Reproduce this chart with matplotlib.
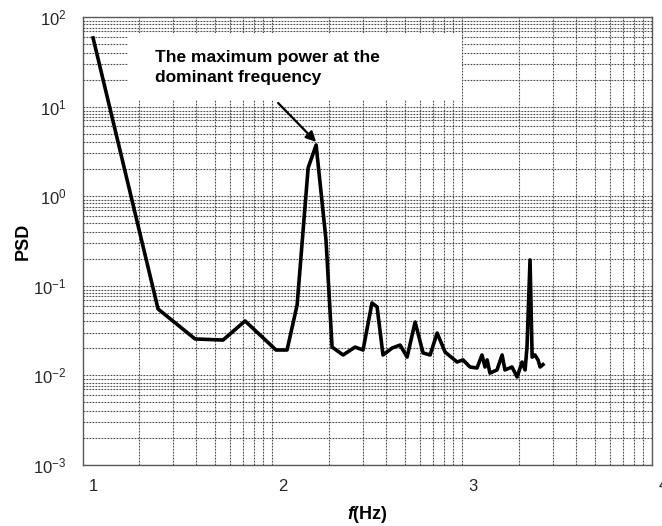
import matplotlib
matplotlib.use("Agg")
import matplotlib.pyplot as plt
import numpy as np
from matplotlib.ticker import FixedLocator, LogFormatterMathtext, NullFormatter
from matplotlib.patches import Rectangle

plt.rcParams['font.family'] = ['Liberation Sans', 'DejaVu Sans']
plt.rcParams['axes.unicode_minus'] = False
plt.rcParams['mathtext.fontset'] = 'custom'
plt.rcParams['mathtext.rm'] = 'Liberation Sans'
plt.rcParams['mathtext.it'] = 'Liberation Sans:italic'
plt.rcParams['mathtext.bf'] = 'Liberation Sans:bold'
try:
    plt.rcParams['mathtext.bfit'] = 'Liberation Sans:italic:bold'
except KeyError:
    pass

# ---- data ----
freq = [1.000, 1.342, 1.537, 1.684, 1.800, 1.963, 2.021, 2.074, 2.132, 2.174,
        2.226, 2.258, 2.316, 2.379, 2.421, 2.468, 2.495, 2.526, 2.574, 2.616,
        2.653, 2.695, 2.737, 2.774, 2.811, 2.853, 2.916, 2.947, 2.984, 3.021,
        3.047, 3.063, 3.074, 3.089, 3.126, 3.153, 3.168, 3.205, 3.232, 3.258,
        3.274, 3.284, 3.300, 3.311, 3.326, 3.342, 3.353, 3.368]
psd = [58.3, 0.0551, 0.0255, 0.0248, 0.0405, 0.0192, 0.0192, 0.0611, 2.07, 3.73,
       0.324, 0.0207, 0.0169, 0.0207, 0.0192, 0.0643, 0.0580, 0.0169, 0.0202, 0.0218,
       0.0160, 0.0394, 0.0178, 0.0169, 0.0297, 0.0182, 0.0141, 0.0149, 0.0124, 0.0121,
       0.0169, 0.0124, 0.0149, 0.0106, 0.0115, 0.0169, 0.0115, 0.0124, 0.0096, 0.0141,
       0.0115, 0.0207, 0.194, 0.0160, 0.0169, 0.0149, 0.0124, 0.0132]

x_ticks = [1, 2, 3, 4]
x_tick_labels = ['1', '2', '3', '4']
y_ticks = [1e-3, 1e-2, 1e-1, 1e0, 1e1, 1e2]
annotation_text = "The maximum power at the\ndominant frequency"
peak_point = (2.174, 4.03)
arrow_start = (1.974, 10.97)

# ---- figure ----
fig = plt.figure(figsize=(6.62, 5.26), dpi=100)
ax = fig.add_axes([0.1254, 0.116, 0.8595, 0.8517])
ax.set_yscale('log')
ax.set_xlim(0.947, 3.942)
ax.set_ylim(1e-3, 1e2)

# grid (style positions)
grid_kw = dict(color='0.3', linestyle=(0, (1.6, 1.1)), linewidth=0.8)
ks_y = [2, 3, 4, 5, 6, 7, 7.6, 8.3, 9]
minor_y = [k * 10.0 ** e for e in range(-3, 2) for k in ks_y]
ax.yaxis.set_minor_locator(FixedLocator(minor_y))
ax.yaxis.set_minor_formatter(NullFormatter())
ax.set_yticks(y_ticks)
ax.yaxis.set_major_formatter(LogFormatterMathtext())

ks_x = [1, 1.5, 2, 2.5, 3, 3.5, 4, 4.5, 5]
minor_x = [n + 0.243 + np.log10(k) for n in range(0, 4) for k in ks_x]
minor_x = [v for v in minor_x if 0.947 < v < 3.945]
ax.xaxis.set_minor_locator(FixedLocator(minor_x))
ax.set_xticks(x_ticks[:3])
ax.set_xticklabels(x_tick_labels[:3])

ax.set_axisbelow(True)
ax.grid(True, which='major', axis='y', **grid_kw)
ax.grid(True, which='minor', axis='both', **grid_kw)
ax.tick_params(which='both', length=0)
ax.tick_params(axis='y', pad=12, labelsize=12, colors='0.15')
ax.tick_params(axis='x', pad=10, labelsize=12, colors='0.15')

# label "4" at the very edge (beyond the view limit)
ax.text(x_ticks[3], -0.03, x_tick_labels[3], transform=ax.get_xaxis_transform(),
        ha='center', va='top', fontsize=12, color='0.15', clip_on=False)

for s in ax.spines.values():
    s.set_color('0.35')
    s.set_linewidth(1.0)

# white box behind annotation text
ax.add_patch(Rectangle((0.079, 0.815), 0.587, 0.149, transform=ax.transAxes,
                       facecolor='white', edgecolor='none', zorder=1))

ax.plot(freq, psd, color='black', linewidth=2.6, zorder=3, solid_joinstyle='round')

ax.text(0.1265, 0.887, annotation_text, transform=ax.transAxes, ha='left', va='center',
        fontsize=12.5, fontweight='bold', linespacing=1.45, zorder=4)
ax.annotate('', xy=peak_point, xytext=arrow_start,
            arrowprops=dict(arrowstyle='-|>,head_length=0.6,head_width=0.3',
                            color='black', lw=1.6, shrinkA=0, shrinkB=0), zorder=4)

ax.set_ylabel('PSD', fontsize=13, fontweight='bold')
ax.yaxis.set_label_coords(-0.09, 0.5)
ax.set_xlabel(r'$\mathbfit{f}$(Hz)', fontsize=13, fontweight='bold')
ax.xaxis.set_label_coords(0.5, -0.088)

fig.savefig('out.png', dpi=100)
